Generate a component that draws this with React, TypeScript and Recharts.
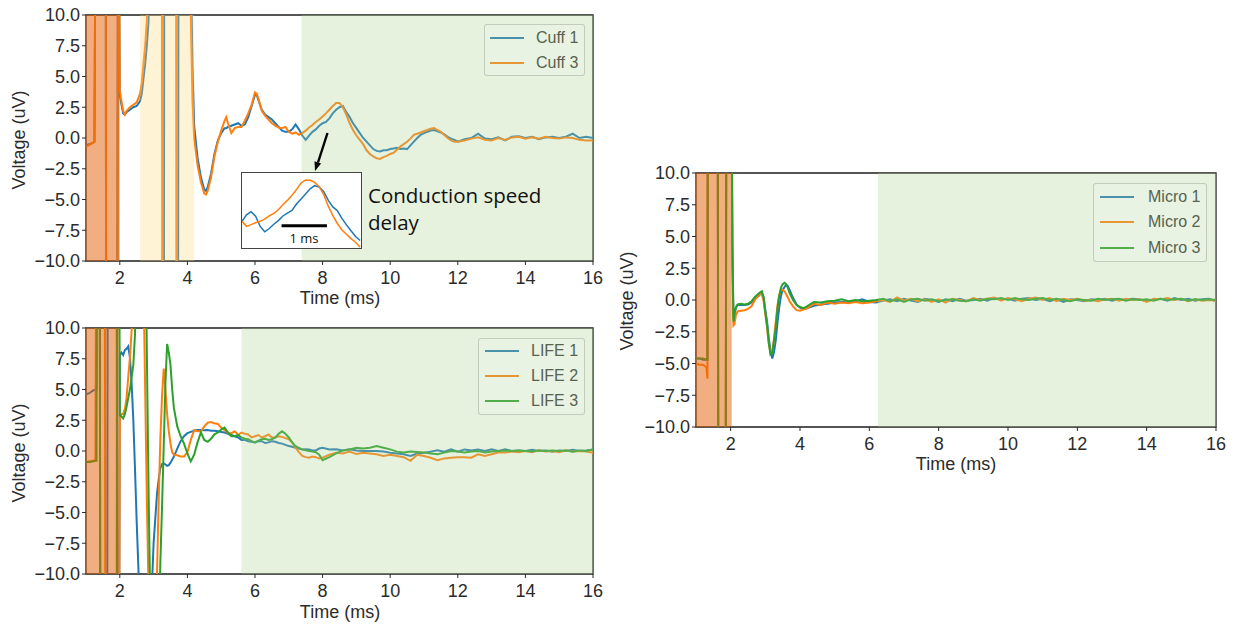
import { LineChart, Line, XAxis, YAxis, ReferenceArea, ReferenceLine } from 'recharts';

// colours (matplotlib tab10) and muted versions used for the legend swatches
const BLUE = '#1f77b4';
const ORANGE = '#ff7f0e';
const GREEN = '#2ca02c';
const LEG_BLUE = '#4992aa';
const LEG_ORANGE = '#e69735';
const LEG_GREEN = '#52ae4a';
const FONT = '"Liberation Sans", Arial, sans-serif';
const TEXT = '#2b2b2b';

const xTicks = [2, 4, 6, 8, 10, 12, 14, 16];
const yTicks = [-10, -7.5, -5, -2.5, 0, 2.5, 5, 7.5, 10];

// ---- Cuff panel (ms, uV) ----
const cuffTime = [
  1.0, 1.1, 1.2, 1.25, 1.3, 1.58, 1.6, 1.92, 1.95,
  2.0, 2.05, 2.1, 2.15, 2.2, 2.3, 2.4, 2.5, 2.6, 2.65, 2.7, 2.75, 2.8, 2.85, 2.9,
  3.24, 3.26, 3.28, 3.3, 3.32,
  3.66, 3.68, 3.7, 3.72, 3.74,
  4.05, 4.1, 4.15, 4.2, 4.3, 4.4, 4.5, 4.55, 4.6, 4.7, 4.8, 4.9,
  5.0, 5.1, 5.15, 5.2, 5.3, 5.4, 5.5, 5.6, 5.7, 5.8, 5.9,
  6.0, 6.05, 6.1, 6.2, 6.3, 6.4, 6.5, 6.6, 6.7, 6.8, 6.9,
  7.0, 7.1, 7.2, 7.3, 7.4, 7.5, 7.6, 7.7, 7.8, 7.9,
  8.0, 8.1, 8.2, 8.3, 8.4, 8.5, 8.6, 8.7, 8.8, 8.9,
  9.0, 9.1, 9.2, 9.3, 9.4, 9.5, 9.6, 9.7, 9.8, 9.9,
  10.0, 10.1, 10.2, 10.3, 10.4, 10.5, 10.6, 10.7, 10.8, 10.9,
  11.0, 11.1, 11.2, 11.3, 11.4, 11.5, 11.6, 11.7, 11.8, 11.9,
  12.0, 12.2, 12.4, 12.6, 12.8, 13.0, 13.2, 13.4, 13.6, 13.8, 14.0,
  14.2, 14.4, 14.6, 14.8, 15.0, 15.2, 15.4, 15.6, 15.8, 16.0,
];
const cuff1 = [
  -0.6, -0.5, -0.4, -0.3, 30, 30, -30, -30, 30,
  3.5, 2.7, 2.0, 1.9, 2.1, 2.3, 2.5, 2.6, 3.0, 3.6, 4.8, 6.0, 7.5, 9.5, 30,
  30, 30, 30, -30, 30,
  30, 30, 30, -30, 30,
  30, 14, 6, 1.0, -1.6, -3.2, -4.2, -4.3, -4.0, -2.9, -1.3, -0.2,
  0.4, 0.8, 0.8, 0.9, 1.0, 1.1, 1.2, 1.0, 1.1, 1.7, 2.6,
  3.5, 3.5, 3.1, 2.3, 1.9, 1.7, 1.5, 1.2, 0.9, 0.6, 0.5,
  0.5, 0.7, 1.1, 0.7, 0.2, -0.15, 0.2, 0.5, 0.7, 1.0,
  1.2, 1.3, 1.6, 2.0, 2.3, 2.5, 2.6, 2.1, 1.7, 1.2,
  0.8, 0.4, 0.0, -0.3, -0.6, -0.9, -1.05, -1.1, -1.0, -1.0,
  -0.9, -0.85, -0.8, -0.9, -0.85, -0.9, -0.6, -0.3, 0.0, 0.25,
  0.4, 0.5, 0.6, 0.65, 0.55, 0.45, 0.3, 0.1, -0.05, -0.15,
  -0.3, -0.1, 0.0, 0.35, -0.05, -0.1, 0.05, -0.2, 0.1, 0.15, 0.0,
  0.1, -0.1, 0.05, 0.1, 0.0, 0.1, 0.35, 0.0, 0.1, 0.0,
];
const cuff3 = [
  -0.7, -0.55, -0.4, -0.3, 30, 30, -30, -30, 30,
  3.8, 3.0, 2.2, 1.9, 2.2, 2.5, 2.7, 2.9, 3.6, 4.5, 6.0, 7.5, 9.5, 12, 30,
  30, -30, 30, 30, 30,
  30, -30, 30, 30, 30,
  30, 10, 3, 0.0, -2.2, -3.6, -4.5, -4.6, -4.3, -3.2, -1.5, -0.3,
  0.6, 1.4, 1.7, 1.2, 0.4, 0.8, 0.9, 0.9, 1.4, 2.0, 2.7,
  3.7, 3.6, 3.2, 2.2, 1.8, 1.5, 1.2, 1.0, 0.85, 0.8, 0.9,
  0.5, 0.35, 0.45, 0.25, 0.4, 0.6, 0.85, 1.05, 1.3, 1.5,
  1.75, 2.0, 2.3, 2.6, 2.85, 2.85, 2.5, 1.9, 1.2, 0.65,
  0.2, -0.15, -0.5, -1.0, -1.3, -1.5, -1.65, -1.7, -1.55, -1.45,
  -1.3, -1.2, -0.95, -0.7, -0.5, -0.3, -0.05, 0.25, 0.35, 0.45,
  0.55, 0.65, 0.75, 0.8, 0.65, 0.5, 0.25, 0.0, -0.2, -0.3,
  -0.3, -0.2, -0.05, 0.05, -0.15, -0.2, 0.0, -0.15, 0.05, 0.1, -0.05,
  0.05, -0.05, 0.1, 0.0, -0.05, 0.05, 0.0, -0.15, -0.2, -0.2,
];

// zoomed inset of the cuff response
const insetTime = [7.0, 7.1, 7.2, 7.3, 7.4, 7.5, 7.6, 7.7, 7.8, 7.9, 8.0, 8.1, 8.2, 8.3,
  8.4, 8.5, 8.6, 8.7, 8.8, 8.9, 9.0, 9.1, 9.2, 9.3, 9.4, 9.5, 9.6];
const insetCuff1 = [0.05, 0.5, 0.72, 0.4, -0.3, -0.68, -0.45, -0.15, 0.1, 0.42, 0.62, 0.8, 1.25, 1.6,
  1.95, 2.3, 2.52, 2.42, 2.1, 1.5, 1.05, 0.78, 0.25, -0.2, -0.6, -1.0, -1.28];
const insetCuff3 = [0.05, -0.3, -0.18, -0.05, 0.05, 0.2, 0.42, 0.6, 0.85, 1.2, 1.5, 1.85, 2.25, 2.7,
  2.92, 2.9, 2.75, 2.45, 1.9, 1.1, 0.45, -0.1, -0.55, -0.85, -1.15, -1.4, -1.75];

// ---- LIFE panel ----
const lifeTime = [
  1.0, 1.1, 1.2, 1.28, 1.31, 1.33, 1.4, 1.43, 1.55, 1.58, 1.62, 1.65, 1.9, 1.93, 1.95, 1.97,
  2.0, 2.05, 2.1, 2.15, 2.2, 2.25, 2.3, 2.35, 2.4, 2.45, 2.5, 2.55, 2.6, 2.7, 2.75, 2.8, 2.85, 2.9, 2.95,
  3.0, 3.05, 3.1, 3.15, 3.2, 3.25, 3.3, 3.35, 3.4, 3.45, 3.5, 3.55, 3.6, 3.7, 3.8, 3.9,
  4.0, 4.1, 4.2, 4.3, 4.4, 4.5, 4.6, 4.7, 4.8, 4.9,
  5.0, 5.1, 5.2, 5.3, 5.4, 5.5, 5.6, 5.7, 5.8, 5.9,
  6.0, 6.1, 6.2, 6.3, 6.4, 6.5, 6.6, 6.7, 6.8, 6.9,
  7.0, 7.1, 7.2, 7.3, 7.4, 7.5, 7.6, 7.7, 7.8, 7.9,
  8.0, 8.2, 8.4, 8.6, 8.8, 9.0, 9.2, 9.4, 9.6, 9.8, 10.0, 10.2, 10.4, 10.6, 10.8,
  11.0, 11.2, 11.4, 11.6, 11.8, 12.0, 12.2, 12.4, 12.6, 12.8, 13.0, 13.2, 13.4, 13.6, 13.8,
  14.0, 14.2, 14.4, 14.6, 14.8, 15.0, 15.2, 15.4, 15.6, 15.8, 16.0,
];
const life1 = [
  4.6, 4.7, 4.9, 5.0, 5.0, 30, 30, -30, -30, -30, -30, 30, 30, -30, -30, -30,
  7.8, 8.0, 7.8, 8.2, 8.3, 8.5, 7.6, 5.5, 2.5, -1.5, -5.8, -9.5, -14, -20, -20, -20, -20, -18, -11,
  -7.5, -5.5, -3.5, -2.3, -1.4, -1.05, -1.0, -1.1, -1.2, -1.15, -0.95, -0.7, -0.45, 0.2, 0.8, 1.2,
  1.45, 1.55, 1.65, 1.7, 1.7, 1.68, 1.7, 1.65, 1.65, 1.6,
  1.55, 1.5, 1.4, 1.3, 1.2, 1.1, 0.9, 0.9, 0.8, 0.75,
  0.7, 0.8, 0.8, 0.65, 0.7, 0.8, 0.75, 0.65, 0.6, 0.5,
  0.4, 0.35, 0.27, 0.2, 0.13, 0.15, 0.13, 0.05, 0.05, 0.2,
  0.27, 0.13, 0.15, 0.05, 0.15, 0.05, 0.0, 0.0, 0.0, -0.05, -0.15, -0.2, -0.27, -0.4, -0.2,
  -0.15, -0.05, 0.05, -0.05, 0.13, -0.05, 0.13, 0.05, 0.13, 0.0, 0.13, 0.0, 0.13, 0.0, 0.05,
  0.0, 0.1, 0.0, 0.05, -0.05, 0.05, 0.0, 0.1, 0.0, 0.05, 0.13,
];
const life2 = [
  -0.9, -0.85, -0.8, -0.7, 30, 30, 30, 30, 30, -30, -30, -30, -30, -30, -30, -30,
  2.7, 3.0, 3.0, 3.4, 4.3, 6.0, 7.6, 9.8, 14, 25, 30, 30, 30, 14, 5, -4, -11, -25, -30,
  -30, -20, -10, -4, 1.0, 4.5, 6.7, 5.0, 3.0, 1.6, 0.6, -0.1, -0.3, -0.35, -0.45, -0.45,
  -0.1, 0.9, 1.7, 1.6, 1.6, 2.0, 2.3, 2.35, 2.25, 2.2,
  1.9, 1.7, 1.45, 1.45, 1.6, 1.3, 1.5, 1.4, 1.35, 1.1,
  1.2, 1.3, 1.1, 1.2, 1.35, 1.1, 1.1, 1.2, 1.15, 1.05,
  0.95, 0.7, 0.27, -0.1, -0.4, -0.5, -0.55, -0.45, -0.5, -0.6,
  -0.55, -0.3, -0.15, -0.2, -0.05, -0.25, -0.15, -0.2, -0.27, -0.4, -0.3, -0.4, -0.5, -0.8, -0.3,
  -0.4, -0.55, -0.75, -0.6, -0.55, -0.5, -0.5, -0.55, -0.27, -0.4, -0.27, -0.13, -0.13, -0.05, -0.1,
  0.0, -0.1, 0.05, -0.05, 0.0, -0.1, 0.05, -0.05, 0.0, -0.05, -0.15,
];
const life3 = [
  -0.9, -0.9, -0.85, -0.8, -0.8, 30, 30, -30, -30, -30, -30, -30, -30, 30, 30, 30,
  2.9, 2.8, 2.65, 3.0, 3.6, 4.3, 5.0, 6.0, 7.0, 9.5, 20, 30, 30, 30, 20, 8, -3, -12, -25,
  -30, -30, -25, -15, -9, -4.5, 0.5, 5.5, 8.7, 8.0, 7.0, 5.0, 3.5, 2.0, 1.2, 0.6,
  -0.2, -0.85, -0.3, 0.7, 1.5, 0.9, 0.75, 1.0, 1.35, 1.5,
  1.75, 1.9, 1.5, 1.2, 1.2, 1.3, 1.1, 1.0, 0.95, 0.8,
  0.7, 0.85, 0.95, 1.0, 0.9, 0.95, 1.1, 1.4, 1.6, 1.4,
  1.1, 0.7, 0.4, 0.25, 0.13, 0.05, 0.0, -0.05, -0.1, -0.3,
  -0.75, -0.5, -0.2, 0.05, 0.13, 0.27, 0.2, 0.27, 0.4, 0.27, 0.13, -0.05, -0.13, -0.05, -0.08,
  -0.13, -0.2, -0.27, -0.13, 0.0, -0.05, -0.13, -0.05, 0.0, -0.13, -0.05, 0.0, 0.05, 0.0, 0.05,
  0.0, -0.05, 0.05, 0.0, 0.05, 0.0, 0.05, -0.05, 0.05, 0.0, 0.13,
];

// ---- Micro panel ----
const microTime = [
  1.0, 1.1, 1.2, 1.3, 1.33, 1.35, 1.38, 1.62, 1.65, 1.68, 1.85, 1.88, 1.91,
  2.0, 2.05, 2.08, 2.11, 2.15, 2.2, 2.3, 2.4, 2.5, 2.6, 2.7, 2.8, 2.85, 2.9, 2.95,
  3.0, 3.05, 3.1, 3.15, 3.2, 3.25, 3.3, 3.35, 3.4, 3.45, 3.5, 3.55, 3.6, 3.65, 3.7, 3.8, 3.9,
  4.0, 4.1, 4.2, 4.4, 4.6, 4.8,
  5.0, 5.2, 5.4, 5.6, 5.8, 6.0, 6.2, 6.4, 6.6, 6.8, 7.0, 7.2, 7.4, 7.6, 7.8,
  8.0, 8.2, 8.4, 8.6, 8.8, 9.0, 9.2, 9.4, 9.6, 9.8, 10.0, 10.2, 10.4, 10.6, 10.8,
  11.0, 11.2, 11.4, 11.6, 11.8, 12.0, 12.2, 12.4, 12.6, 12.8, 13.0, 13.2, 13.4, 13.6, 13.8,
  14.0, 14.2, 14.4, 14.6, 14.8, 15.0, 15.2, 15.4, 15.6, 15.8, 16.0,
];
const micro1 = [
  -4.6, -4.6, -4.7, -4.7, -4.7, 30, 30, 30, -30, -30, -30, 30, 30,
  30, 4, -1.2, -1.0, -0.6, -0.4, -0.4, -0.4, -0.35, -0.2, 0.15, 0.3, 0.45, 0.55, 0.2,
  -0.8, -1.7, -3.0, -4.0, -4.6, -4.1, -3.2, -1.8, -0.6, 0.3, 0.8, 1.0, 1.2, 1.1, 0.8, 0.15, -0.35,
  -0.6, -0.7, -0.65, -0.45, -0.35, -0.3,
  -0.2, -0.15, -0.2, -0.1, 0.05, -0.15, -0.2, -0.05, 0.05, -0.1, 0.1, -0.05, -0.15, 0.1, 0.0,
  -0.15, 0.05, -0.1, 0.1, -0.05, 0.0, 0.1, -0.05, 0.15, 0.05, 0.1, -0.05, 0.1, 0.15, 0.0,
  0.1, -0.1, 0.05, -0.15, 0.05, 0.0, -0.1, 0.05, 0.0, 0.1, -0.05, 0.05, 0.0, 0.1, 0.05,
  -0.1, 0.05, 0.1, -0.05, 0.15, 0.0, 0.1, -0.05, 0.05, 0.1, -0.1,
];
const micro2 = [
  -5.0, -5.1, -5.1, -5.3, -6.2, 30, 30, 30, -30, -30, -30, 30, 30,
  30, 3, -2.0, -1.9, -1.2, -0.9, -0.85, -0.8, -0.7, -0.5, 0.0, 0.35, 0.5, 0.45, -0.1,
  -1.1, -2.2, -3.4, -4.2, -4.1, -3.0, -1.7, -0.4, 0.4, 0.8, 0.8, 0.7, 0.45, 0.2, -0.1, -0.5, -0.8,
  -0.85, -0.75, -0.65, -0.3, -0.4, -0.2,
  -0.3, -0.2, -0.25, -0.15, -0.25, -0.2, -0.1, 0.0, -0.15, 0.2, -0.05, 0.1, -0.1, 0.05, -0.15,
  0.05, -0.2, 0.1, 0.0, -0.1, 0.15, 0.0, 0.1, 0.2, -0.05, 0.15, 0.05, -0.1, 0.1, 0.2,
  0.0, 0.15, -0.1, 0.1, 0.0, 0.1, -0.05, 0.0, -0.1, 0.05, 0.1, -0.05, 0.1, 0.0, 0.05,
  -0.15, 0.1, 0.05, 0.15, 0.0, 0.1, -0.1, 0.05, -0.05, 0.0, -0.05,
];
const micro3 = [
  -4.6, -4.6, -4.6, -4.7, -4.7, 30, 30, 30, -30, -30, -30, 30, 30,
  30, 4.5, -1.7, -1.15, -0.6, -0.35, -0.3, -0.35, -0.3, -0.1, 0.25, 0.5, 0.6, 0.68, 0.2,
  -1.0, -2.0, -3.4, -4.3, -4.2, -3.2, -2.2, -0.7, 0.3, 0.95, 1.25, 1.35, 1.25, 0.95, 0.55, 0.0, -0.4,
  -0.55, -0.65, -0.5, -0.15, -0.2, -0.1,
  -0.05, 0.05, -0.1, 0.0, -0.1, -0.05, 0.0, 0.1, -0.1, 0.05, -0.15, 0.05, 0.1, -0.05, 0.05,
  -0.1, 0.0, 0.05, -0.05, -0.1, 0.05, -0.05, 0.1, 0.05, 0.15, 0.0, 0.15, 0.05, 0.0, 0.1,
  0.15, 0.0, 0.1, 0.0, -0.1, 0.05, 0.0, -0.05, 0.1, 0.0, 0.05, 0.1, -0.05, 0.05, 0.0,
  0.05, -0.05, 0.1, 0.0, 0.05, 0.1, -0.05, 0.05, 0.0, 0.05, 0.0,
];

type Series = { key: string; name: string; color: string; legend: string; values: number[] };
type Span = { x1: number; x2: number; fill: string; opacity: number };

const ORANGE_SPAN = { fill: '#e35d03', opacity: 0.5 };
const YELLOW_SPAN = { fill: '#ffd776', opacity: 0.3 };
const GREEN_SPAN = { fill: '#acd091', opacity: 0.3 };

const fmtY = (v: number) => v.toFixed(1).replace('-', '\u2212');

function Panel(props: {
  left: number; top: number; width: number; height: number; marginRight: number;
  time: number[]; series: Series[]; spans: Span[];
}) {
  const { left, top, width, height, marginRight, time, series, spans } = props;
  const rows = time.map((t, i) => {
    const r: Record<string, number> = { t };
    series.forEach((s) => { r[s.key] = s.values[i]; });
    return r;
  });
  return (
    <div style={{ position: 'absolute', left, top }}>
      <LineChart width={width} height={height} data={rows}
        margin={{ top: 15, right: marginRight, left: 0, bottom: 0 }}>
        <XAxis dataKey="t" type="number" domain={[1, 16]} ticks={xTicks} allowDataOverflow
          height={49} axisLine={false} tickSize={4} tickMargin={6}
          tickLine={{ stroke: TEXT }} tick={{ fontSize: 18, fill: TEXT, fontFamily: FONT }} />
        <YAxis type="number" domain={[-10, 10]} ticks={yTicks} allowDataOverflow width={86}
          axisLine={false} tickSize={4} tickMargin={2} tickFormatter={fmtY}
          tickLine={{ stroke: TEXT }} tick={{ fontSize: 18, fill: TEXT, fontFamily: FONT }} />
        <ReferenceArea x1={1} x2={16} y1={-10} y2={10} fill="none" stroke="#1e1e1e" strokeWidth={1.3} />
        {series.map((s) => (
          <Line key={s.key} dataKey={s.key} name={s.name} stroke={s.color} strokeWidth={2}
            dot={false} activeDot={false} isAnimationActive={false} type="linear" />
        ))}
        {spans.map((sp, i) => (
          <ReferenceArea key={i} x1={sp.x1} x2={sp.x2} y1={-10} y2={10} fill={sp.fill}
            fillOpacity={sp.opacity} stroke="none" zIndex={450} />
        ))}
      </LineChart>
    </div>
  );
}

function LegendBox(props: { left: number; top: number; width: number; height: number; rows: number[]; lineX: number; textX: number; series: Series[] }) {
  const { left, top, width, height, rows, lineX, textX, series } = props;
  return (
    <div style={{
      position: 'absolute', left, top, width, height, boxSizing: 'border-box',
      border: '1px solid rgba(190,200,185,0.9)', borderRadius: 3, background: 'rgba(255,255,255,0.15)',
    }}>
      {series.map((s, i) => (
        <div key={s.key}>
          <div style={{ position: 'absolute', left: lineX, top: rows[i] - 1, width: 34, height: 2, background: s.legend }} />
          <div style={{
            position: 'absolute', left: textX, top: rows[i] - 10, height: 20, lineHeight: '20px',
            fontSize: 16, fontFamily: FONT, color: '#57624f', whiteSpace: 'nowrap',
          }}>{s.name}</div>
        </div>
      ))}
    </div>
  );
}

export default function App() {
  const cuffSeries: Series[] = [
    { key: 'c1', name: 'Cuff 1', color: BLUE, legend: LEG_BLUE, values: cuff1 },
    { key: 'c3', name: 'Cuff 3', color: ORANGE, legend: LEG_ORANGE, values: cuff3 },
  ];
  const lifeSeries: Series[] = [
    { key: 'l1', name: 'LIFE 1', color: BLUE, legend: LEG_BLUE, values: life1 },
    { key: 'l2', name: 'LIFE 2', color: ORANGE, legend: LEG_ORANGE, values: life2 },
    { key: 'l3', name: 'LIFE 3', color: GREEN, legend: LEG_GREEN, values: life3 },
  ];
  const microSeries: Series[] = [
    { key: 'm1', name: 'Micro 1', color: BLUE, legend: LEG_BLUE, values: micro1 },
    { key: 'm2', name: 'Micro 2', color: ORANGE, legend: LEG_ORANGE, values: micro2 },
    { key: 'm3', name: 'Micro 3', color: GREEN, legend: LEG_GREEN, values: micro3 },
  ];
  const insetRows = insetTime.map((t, i) => ({ t, a: insetCuff1[i], b: insetCuff3[i] }));

  return (
    <div style={{ position: 'absolute', left: 0, top: 0, width: 1234, height: 624, background: '#fff', overflow: 'hidden' }}>
      <Panel left={0} top={0} width={620} height={310} marginRight={27} time={cuffTime} series={cuffSeries}
        spans={[
          { x1: 1, x2: 2.0, ...ORANGE_SPAN },
          { x1: 2.6, x2: 4.2, ...YELLOW_SPAN },
          { x1: 7.38, x2: 16, ...GREEN_SPAN },
        ]} />
      <Panel left={0} top={313} width={620} height={310} marginRight={27} time={lifeTime} series={lifeSeries}
        spans={[
          { x1: 1, x2: 1.97, ...ORANGE_SPAN },
          { x1: 5.6, x2: 16, ...GREEN_SPAN },
        ]} />
      <Panel left={610} top={158} width={620} height={318} marginRight={14} time={microTime} series={microSeries}
        spans={[
          { x1: 1, x2: 2.03, ...ORANGE_SPAN },
          { x1: 6.25, x2: 16, ...GREEN_SPAN },
        ]} />

      <LegendBox left={484} top={24} width={101} height={52} rows={[12.5, 37.5]} lineX={5} textX={51} series={cuffSeries} />
      <LegendBox left={478} top={338} width={107} height={77} rows={[12, 37, 62]} lineX={6} textX={52} series={lifeSeries} />
      <LegendBox left={1093} top={183} width={114} height={79} rows={[13, 38, 64]} lineX={6} textX={54} series={microSeries} />

      {/* inset: zoom on the delayed response */}
      <div style={{ position: 'absolute', left: 241, top: 172, width: 121, height: 77, boxSizing: 'border-box', border: '1px solid #444', background: '#fff' }}>
        <LineChart width={119} height={75} data={insetRows} margin={{ top: 0, right: 0, left: 0, bottom: 0 }}>
          <XAxis dataKey="t" type="number" domain={[7.0, 9.62]} hide allowDataOverflow />
          <YAxis type="number" domain={[-1.8, 3.4]} hide allowDataOverflow />
          <Line dataKey="a" stroke={BLUE} strokeWidth={1.5} dot={false} isAnimationActive={false} type="linear" />
          <Line dataKey="b" stroke={ORANGE} strokeWidth={1.5} dot={false} isAnimationActive={false} type="linear" />
          <ReferenceLine segment={[{ x: 7.87, y: -0.25 }, { x: 8.87, y: -0.25 }]} stroke="#000" strokeWidth={3} />
        </LineChart>
      </div>

      <svg width={1234} height={624} style={{ position: 'absolute', left: 0, top: 0, pointerEvents: 'none' }}>
        <g fontFamily={FONT} fontSize={18} fill={TEXT}>
          <text x={19} y={140} textAnchor="middle" dominantBaseline="central" transform="rotate(-90 19 140)">Voltage (uV)</text>
          <text x={19} y={453} textAnchor="middle" dominantBaseline="central" transform="rotate(-90 19 453)">Voltage (uV)</text>
          <text x={627} y={301} textAnchor="middle" dominantBaseline="central" transform="rotate(-90 627 301)">Voltage (uV)</text>
          <text x={340} y={304} textAnchor="middle">Time (ms)</text>
          <text x={340} y={618} textAnchor="middle">Time (ms)</text>
          <text x={956} y={470} textAnchor="middle">Time (ms)</text>
        </g>
        <line x1={327.5} y1={133} x2={318} y2={162.5} stroke="#000" strokeWidth={2.4} />
        <polygon points="315,171 321.1,163.5 314.5,161.3" fill="#000" />
        <g fontFamily='"Open Sans", "Noto Sans", sans-serif' fill="#111">
          <text x={368} y={203} fontSize={20.5}>Conduction speed</text>
          <text x={368} y={230} fontSize={20.5}>delay</text>
          <text x={304} y={243} fontSize={13} textAnchor="middle">1 ms</text>
        </g>
      </svg>
    </div>
  );
}
